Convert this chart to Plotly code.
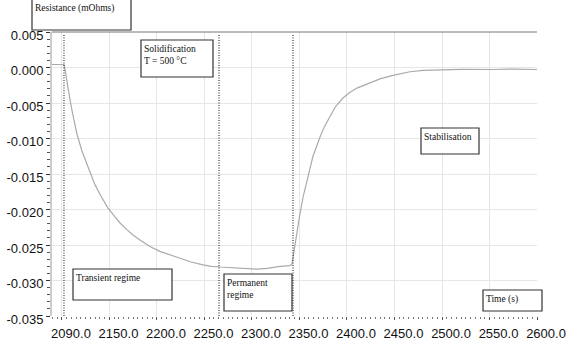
import plotly.graph_objects as go

# ---------------- data ----------------
time_s = [2089.5, 2096.0, 2102.1, 2103.5, 2105.3, 2108.5, 2111.6, 2115.8, 2121.1, 2125.0, 2129.5,
          2134.7, 2141.0, 2148.4, 2155.0, 2161.1, 2168.0, 2174.7, 2182.1, 2192.6, 2203.0,
          2214.0, 2224.2, 2236.0, 2248.4, 2257.0, 2266.3, 2276.0, 2287.4, 2296.0, 2305.3,
          2316.0, 2329.5, 2340.0, 2342.1, 2343.5, 2345.3, 2348.0, 2350.5, 2354.0, 2357.9, 2364.2,
          2371.6, 2376.0, 2382.1, 2388.0, 2395.8, 2402.0, 2410.5, 2424.2, 2434.7, 2448.4,
          2466.3, 2480.0, 2497.9, 2520.0, 2553.7, 2575.0, 2600.0]
resistance_mohm = [0.00042, 0.00042, 0.00042, -0.0005, -0.00225, -0.0046, -0.00676, -0.0094, -0.0118, -0.0132, -0.0148,
                   -0.0165, -0.0181, -0.0198, -0.0209, -0.0219, -0.0228, -0.0236, -0.0243, -0.0252, -0.0259,
                   -0.0264, -0.0268, -0.0274, -0.0278, -0.0280, -0.0281, -0.0282, -0.0283, -0.0284, -0.0284,
                   -0.0283, -0.0280, -0.0279, -0.0277, -0.0265, -0.0249, -0.0227, -0.0206, -0.0181, -0.0158, -0.0125,
                   -0.0098, -0.0084, -0.0069, -0.0055, -0.0043, -0.0036, -0.0029, -0.0021, -0.0016, -0.0011,
                   -0.0006, -0.0004, -0.0003, -0.00025, -0.00028, -0.00022, -0.00028]

x_tick_vals = [2100, 2150, 2200, 2250, 2300, 2350, 2400, 2450, 2500, 2550, 2600]
x_tick_text = ["2090.0", "2150.0", "2200.0", "2250.0", "2300.0", "2350.0",
               "2400.0", "2450.0", "2500.0", "2550.0", "2600.0"]
y_tick_vals = [0.005, 0.0, -0.005, -0.010, -0.015, -0.020, -0.025, -0.030, -0.035]
y_tick_text = ["0.005", "0.000", "-0.005", "-0.010", "-0.015", "-0.020", "-0.025", "-0.030", "-0.035"]

regime_boundaries_s = [2102.1, 2265.3, 2343.2]

# label boxes: (text, left, top, right, bottom) in pixels
W, H = 566, 342
L, R, T, B = 52, 29, 32, 26
PW, PH = W - L - R, H - T - B

boxes = [
    ("Resistance (mOhms)", 32, -1, 131, 30),
    ("Solidification<br>T = 500 °C", 141, 40, 213, 77),
    ("Stabilisation", 421, 128, 479, 154),
    ("Transient regime", 73, 269, 172, 300),
    ("Permanent<br>regime", 224, 274, 292, 311),
    ("Time (s)", 483, 290, 542, 311),
]


def px(x):
    return (x - L) / PW


def py(y):
    return 1 - (y - T) / PH


fig = go.Figure()
fig.add_trace(go.Scatter(x=time_s, y=resistance_mohm, mode="lines",
                         line=dict(color="#aaaaaa", width=1.2), showlegend=False,
                         hoverinfo="skip"))

shapes = []
for t in regime_boundaries_s:
    shapes.append(dict(type="line", xref="x", yref="paper", x0=t, x1=t, y0=0, y1=0.99,
                       line=dict(color="#111111", width=1, dash="1px,1.5px")))
# top border
shapes.append(dict(type="line", xref="paper", yref="paper", x0=0, x1=1, y0=1, y1=1,
                   line=dict(color="#777777", width=1)))

annotations = []
for i, (text, x0, y0, x1, y1) in enumerate(boxes):
    shapes.append(dict(type="rect", xref="paper", yref="paper",
                       x0=px(x0), x1=px(x1), y0=py(y0), y1=py(y1),
                       line=dict(color="#333333", width=1.2), fillcolor="white",
                       layer="below" if i == 0 else "above"))
    annotations.append(dict(text=text, xref="paper", yref="paper", x=px(x0 + 0.5), y=py(y0 + 2),
                            xanchor="left", yanchor="top", align="left", showarrow=False,
                            font=dict(family="Liberation Serif, Times New Roman, serif",
                                      size=9.5, color="#111111")))

fig.update_layout(
    width=W, height=H,
    margin=dict(l=L, r=R, t=T, b=B, autoexpand=False),
    paper_bgcolor="white", plot_bgcolor="white",
    shapes=shapes, annotations=annotations,
    font=dict(family="Liberation Sans, Arial, sans-serif", size=13, color="#111111"),
)
fig.update_xaxes(range=[2089.5, 2600], tickvals=x_tick_vals, ticktext=x_tick_text,
                 automargin=False,
                 showgrid=True, gridcolor="#e6e6e6", gridwidth=1, zeroline=False,
                 showline=False, ticks="outside", ticklen=3, tickcolor="#555555",
                 ticklabelshift=9, ticklabelstandoff=2,
                 minor=dict(dtick=5, ticks="outside", ticklen=2, tickcolor="#777777", showgrid=False),
                 tickfont=dict(size=13, color="#111111"))
fig.update_yaxes(range=[-0.035, 0.005], tickvals=y_tick_vals, ticktext=y_tick_text,
                 automargin=False,
                 showgrid=True, gridcolor="#e6e6e6", gridwidth=1, zeroline=False,
                 showline=True, linecolor="#cccccc", linewidth=2,
                 ticks="outside", ticklen=4, tickcolor="#333333",
                 ticklabelshift=3,
                 minor=dict(dtick=0.001, ticks="outside", ticklen=3, tickcolor="#555555", showgrid=False),
                 tickfont=dict(size=13, color="#111111"))

fig.write_html("out.html", post_script="document.body.style.margin='0';",
               config={"displayModeBar": False})
